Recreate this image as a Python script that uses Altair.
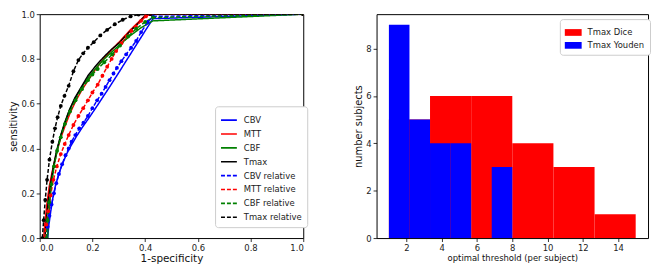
import altair as alt
import pandas as pd

# ---------------- ROC curves (left panel) ----------------
series_names = ["CBV", "MTT", "CBF", "Tmax",
                "CBV relative", "MTT relative", "CBF relative", "Tmax relative"]
series_colors = ["#0000ff", "#ff0000", "#008000", "#000000",
                 "#0000ff", "#ff0000", "#008000", "#000000"]
series_dashes = [[1, 0], [1, 0], [1, 0], [1, 0],
                 [4, 2], [4, 2], [4, 2], [4, 2]]

cbv_x = [0.03, 0.035, 0.042, 0.05, 0.06, 0.072, 0.086, 0.102, 0.12, 0.14, 0.162,
         0.186, 0.212, 0.24, 0.268, 0.298, 0.33, 0.365, 0.4, 0.43, 1.0]
cbv_y = [0.0, 0.06, 0.12, 0.18, 0.235, 0.285, 0.33, 0.375, 0.415, 0.455, 0.495,
         0.535, 0.58, 0.63, 0.68, 0.735, 0.795, 0.86, 0.925, 0.98, 1.0]

mtt_x = [0.015, 0.02, 0.027, 0.036, 0.048, 0.062, 0.078, 0.096, 0.116, 0.138,
         0.162, 0.187, 0.213, 0.242, 0.272, 0.305, 0.34, 0.375, 0.405, 1.0]
mtt_y = [0.0, 0.07, 0.15, 0.23, 0.3, 0.37, 0.44, 0.5, 0.56, 0.615,
         0.665, 0.71, 0.755, 0.8, 0.84, 0.88, 0.925, 0.965, 1.0, 1.0]

cbf_x = [0.03, 0.033, 0.038, 0.045, 0.054, 0.066, 0.08, 0.096, 0.114, 0.135,
         0.16, 0.186, 0.214, 0.245, 0.277, 0.31, 0.345, 0.385, 0.43, 1.0]
cbf_y = [0.0, 0.08, 0.16, 0.24, 0.32, 0.39, 0.46, 0.52, 0.575, 0.625,
         0.675, 0.72, 0.76, 0.8, 0.835, 0.87, 0.905, 0.94, 0.97, 1.0]

tmax_x = [0.02, 0.025, 0.032, 0.041, 0.052, 0.064, 0.078, 0.094, 0.112, 0.133,
          0.158, 0.183, 0.21, 0.24, 0.27, 0.3, 0.34, 0.377, 0.405, 1.0]
tmax_y = [0.0, 0.08, 0.16, 0.24, 0.32, 0.39, 0.45, 0.51, 0.57, 0.625,
          0.675, 0.725, 0.765, 0.805, 0.84, 0.87, 0.92, 0.963, 1.0, 1.0]

cbv_rel_x = [0.025, 0.03, 0.037, 0.045, 0.054, 0.063, 0.073, 0.085, 0.098, 0.11,
             0.121, 0.135, 0.15, 0.166, 0.183, 0.2, 0.218, 0.235, 0.25, 0.265,
             0.28, 0.293, 0.31, 0.328, 0.347, 0.366, 0.385, 0.41, 0.43, 1.0]
cbv_rel_y = [0.0, 0.05, 0.1, 0.15, 0.2, 0.245, 0.286, 0.33, 0.37, 0.4,
             0.43, 0.46, 0.49, 0.515, 0.545, 0.58, 0.615, 0.645, 0.675, 0.705,
             0.735, 0.76, 0.79, 0.82, 0.85, 0.88, 0.92, 0.965, 0.99, 1.0]

mtt_rel_x = [0.02, 0.025, 0.032, 0.041, 0.052, 0.065, 0.08, 0.095, 0.11, 0.128,
             0.147, 0.165, 0.183, 0.2, 0.22, 0.238, 0.256, 0.273, 0.29, 0.31,
             0.33, 0.348, 0.365, 0.385, 0.403, 0.42, 1.0]
mtt_rel_y = [0.0, 0.06, 0.12, 0.19, 0.26, 0.32, 0.375, 0.42, 0.46, 0.505,
             0.545, 0.58, 0.615, 0.65, 0.685, 0.725, 0.765, 0.8, 0.835, 0.87,
             0.9, 0.925, 0.945, 0.97, 0.99, 1.0, 1.0]

cbf_rel_x = [0.025, 0.03, 0.036, 0.044, 0.054, 0.066, 0.08, 0.096, 0.115, 0.136,
             0.16, 0.183, 0.2, 0.22, 0.245, 0.275, 0.305, 0.335, 0.366, 0.4,
             0.43, 1.0]
cbf_rel_y = [0.0, 0.08, 0.16, 0.24, 0.32, 0.39, 0.45, 0.51, 0.565, 0.615,
             0.665, 0.705, 0.73, 0.755, 0.785, 0.82, 0.86, 0.9, 0.935, 0.965,
             0.985, 1.0]

tmax_rel_x = [0.01, 0.015, 0.021, 0.028, 0.037, 0.048, 0.058, 0.068, 0.08, 0.094,
              0.11, 0.128, 0.147, 0.165, 0.183, 0.205, 0.23, 0.256, 0.285, 0.315,
              0.345, 0.375, 0.42, 1.0]
tmax_rel_y = [0.0, 0.08, 0.17, 0.26, 0.35, 0.43, 0.49, 0.54, 0.59, 0.635,
              0.68, 0.745, 0.795, 0.825, 0.85, 0.875, 0.905, 0.93, 0.955, 0.975,
              0.99, 0.998, 1.0, 1.0]

curves = [
    ("CBV", cbv_x, cbv_y), ("MTT", mtt_x, mtt_y),
    ("CBF", cbf_x, cbf_y), ("Tmax", tmax_x, tmax_y),
    ("CBV relative", cbv_rel_x, cbv_rel_y), ("MTT relative", mtt_rel_x, mtt_rel_y),
    ("CBF relative", cbf_rel_x, cbf_rel_y), ("Tmax relative", tmax_rel_x, tmax_rel_y),
]
rows = []
for name, xs, ys in curves:
    for i, (a, b) in enumerate(zip(xs, ys)):
        rows.append({"series": name, "fpr": a, "tpr": b, "ord": i})
roc = pd.DataFrame(rows)

roc_ticks = [0.0, 0.2, 0.4, 0.6, 0.8, 1.0]

# ---------------- histograms (right panel) ----------------
hist_names = ["Tmax Dice", "Tmax Youden"]
hist_colors = ["#ff0000", "#0000ff"]
dice_edges = [1.0, 3.333, 5.667, 8.0, 10.333, 12.667, 15.0]
dice_counts = [5, 6, 6, 4, 3, 1]
youden_edges = [1.0, 2.167, 3.333, 4.5, 5.667, 6.833, 8.0]
youden_counts = [9, 5, 4, 4, 0, 3]
hist_xticks = [2, 4, 6, 8, 10, 12, 14]
hist_yticks = [0, 2, 4, 6, 8]

hrows = []
for name, edges, counts in [("Tmax Dice", dice_edges, dice_counts),
                            ("Tmax Youden", youden_edges, youden_counts)]:
    for i, c in enumerate(counts):
        if c > 0:
            hrows.append({"method": name, "x0": edges[i], "x1": edges[i + 1], "n": c})
hist = pd.DataFrame(hrows)

FONT = "DejaVu Sans"


def axis(values, fmt, title, title_size=10):
    return alt.Axis(values=values, format=fmt, title=title, grid=False, domain=False,
                    tickSize=3.5, tickColor="#000000", tickWidth=0.8,
                    labelFontSize=8.5, labelColor="#222222", labelPadding=2,
                    titleFontSize=title_size, titleFontWeight="normal",
                    titleColor="#111111", titlePadding=2,
                    labelFont=FONT, titleFont=FONT)


roc_legend = alt.Legend(title=None, orient="none", legendX=177, legendY=93,
                        symbolType="stroke", symbolSize=256, symbolStrokeWidth=1.6,
                        labelFontSize=8.5, labelFont=FONT, labelColor="#222222",
                        labelOffset=6, rowPadding=0, padding=5,
                        fillColor="#ffffff", strokeColor="#cccccc", cornerRadius=3)

xroc = alt.X("fpr:Q", scale=alt.Scale(domain=[0, 1], nice=False),
             axis=axis(roc_ticks, ".1f", "1-specificity", 10.5))
yroc = alt.Y("tpr:Q", scale=alt.Scale(domain=[0, 1], nice=False),
             axis=axis(roc_ticks, ".1f", "sensitivity", 10))

lines = alt.Chart(roc).mark_line(strokeWidth=1.5, clip=True).encode(
    x=xroc, y=yroc, order="ord:Q",
    color=alt.Color("series:N", scale=alt.Scale(domain=series_names, range=series_colors),
                    legend=roc_legend, sort=series_names),
    strokeDash=alt.StrokeDash("series:N",
                              scale=alt.Scale(domain=series_names, range=series_dashes),
                              legend=roc_legend, sort=series_names),
)

dots = alt.Chart(roc).transform_filter(
    alt.FieldOneOfPredicate(field="series", oneOf=series_names[4:])
).mark_circle(size=15, opacity=1, clip=True).encode(
    x=xroc, y=yroc,
    fill=alt.Fill("series:N", scale=alt.Scale(domain=series_names, range=series_colors),
                  legend=None),
)

left = alt.layer(lines, dots).properties(width=266, height=226)

hist_legend = alt.Legend(title=None, orient="none", legendX=185, legendY=5,
                         symbolType="M-1,-0.4L1,-0.4L1,0.4L-1,0.4Z", symbolSize=289,
                         symbolStrokeWidth=0, labelFontSize=8.5, labelFont=FONT,
                         labelColor="#222222", labelOffset=6, rowPadding=0, padding=5,
                         fillColor="#ffffff", strokeColor="#cccccc", cornerRadius=3)

right = alt.Chart(hist).mark_rect(strokeWidth=0).encode(
    x=alt.X("x0:Q", scale=alt.Scale(domain=[0.3, 15.7], nice=False),
            axis=axis(hist_xticks, "d", "optimal threshold (per subject)", 8.5)),
    x2="x1:Q",
    y=alt.Y("n:Q", scale=alt.Scale(domain=[0, 9.45], nice=False),
            axis=axis(hist_yticks, "d", "number subjects", 10)),
    y2=alt.datum(0),
    color=alt.Color("method:N", scale=alt.Scale(domain=hist_names, range=hist_colors),
                    legend=hist_legend),
).properties(width=274, height=226)

chart = alt.hconcat(left, right, spacing=45).resolve_scale(
    color="independent", fill="independent", strokeDash="independent"
).resolve_legend(
    color="independent", fill="independent", strokeDash="independent"
).configure(
    font=FONT, padding=0
).configure_view(
    stroke="#000000", strokeWidth=1
)

chart.save("out.html", embed_options={"renderer": "svg", "actions": False})
